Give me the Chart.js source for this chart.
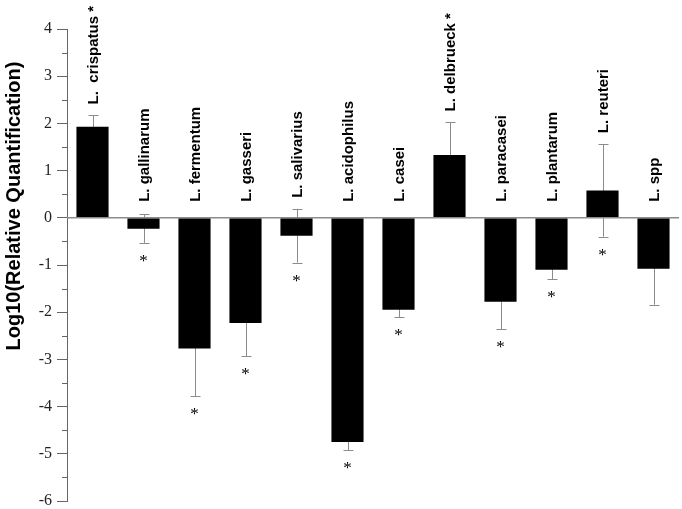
<!DOCTYPE html>
<html>
<head>
<meta charset="utf-8">
<script src="https://cdn.jsdelivr.net/npm/chart.js@4"></script>
<style>
  html, body { margin: 0; padding: 0; background: #fff; }
  #wrap { width: 682px; height: 509px; }
</style>
</head>
<body>
<div id="wrap"><canvas id="chart"></canvas></div>
<script>
// species names (asterisk kept in the label where the picture has it there)
const species = ['L.  crispatus *', 'L. gallinarum', 'L. fermentum', 'L. gasseri', 'L. salivarius',
  'L. acidophilus', 'L. casei', 'L. delbrueck *', 'L. paracasei', 'L. plantarum', 'L. reuteri', 'L. spp'];
// mean log10 relative quantification
const meanValues = [1.93, -0.23, -2.77, -2.23, -0.38, -4.75, -1.95, 1.33, -1.78, -1.10, 0.58, -1.08];
// error bar half-length
const errValues = [0.24, 0.30, 1.01, 0.70, 0.57, 0.18, 0.16, 0.69, 0.58, 0.20, 0.98, 0.76];
// asterisk drawn below the bar
const starBelow = [false, true, true, true, true, true, true, false, true, true, true, false];
const yTicks = [-6, -5, -4, -3, -2, -1, 0, 1, 2, 3, 4];
const yTitle = 'Log10(Relative Quantification)';

const GREY = '#8c8c8c';
const AXIS = '#666';
const SERIF = '"Times New Roman", "Liberation Serif", serif';
const SANS = '"Liberation Sans", Arial, sans-serif';

// error bars go under the bars, so only the part outside the bar shows
const errorBars = {
  id: 'errorBars',
  beforeDatasetsDraw(chart) {
    const { ctx } = chart;
    const y = chart.scales.y;
    const meta = chart.getDatasetMeta(0);
    ctx.save();
    ctx.strokeStyle = GREY;
    ctx.lineWidth = 1;
    meta.data.forEach((bar, i) => {
      const x = Math.round(bar.x) + 0.5;
      const top = y.getPixelForValue(meanValues[i] + errValues[i]);
      const bot = y.getPixelForValue(meanValues[i] - errValues[i]);
      ctx.beginPath();
      ctx.moveTo(x, top); ctx.lineTo(x, bot);
      ctx.moveTo(x - 5, Math.round(top) + 0.5); ctx.lineTo(x + 5, Math.round(top) + 0.5);
      ctx.moveTo(x - 5, Math.round(bot) + 0.5); ctx.lineTo(x + 5, Math.round(bot) + 0.5);
      ctx.stroke();
    });
    ctx.restore();
  }
};

// zero line, minor ticks, axis title, rotated names and asterisks
const decorations = {
  id: 'decorations',
  afterDatasetsDraw(chart) {
    const { ctx, chartArea } = chart;
    const y = chart.scales.y;
    const meta = chart.getDatasetMeta(0);
    const zero = y.getPixelForValue(0);
    ctx.save();
    ctx.strokeStyle = GREY;
    ctx.lineWidth = 1.5;
    ctx.beginPath();
    ctx.moveTo(chartArea.left, zero);
    ctx.lineTo(chartArea.right, zero);
    ctx.stroke();

    // half-unit minor ticks
    ctx.strokeStyle = AXIS;
    ctx.lineWidth = 1;
    ctx.beginPath();
    for (let v = -5.5; v < 4; v += 1) {
      const py = Math.round(y.getPixelForValue(v)) + 0.5;
      ctx.moveTo(chartArea.left - 5, py);
      ctx.lineTo(chartArea.left, py);
    }
    ctx.stroke();

    // axis title, centred a bit above the middle like the original
    ctx.save();
    ctx.translate(14, y.getPixelForValue(0.25));
    ctx.rotate(-Math.PI / 2);
    ctx.fillStyle = '#000';
    ctx.font = 'bold 20px ' + SANS;
    ctx.textAlign = 'center';
    ctx.textBaseline = 'middle';
    ctx.fillText(yTitle, 0, 0);
    ctx.restore();

    meta.data.forEach((bar, i) => {
      const errTop = y.getPixelForValue(meanValues[i] + errValues[i]);
      const errBot = y.getPixelForValue(meanValues[i] - errValues[i]);
      const start = Math.min(zero - 16, errTop - 11);
      ctx.save();
      ctx.translate(bar.x + 1, start);
      ctx.rotate(-Math.PI / 2);
      ctx.fillStyle = '#000';
      ctx.font = 'bold 15px ' + SANS;
      ctx.textAlign = 'left';
      ctx.textBaseline = 'middle';
      ctx.fillText(species[i], 0, 0);
      ctx.restore();

      if (starBelow[i]) {
        ctx.fillStyle = '#000';
        ctx.font = '17px ' + SERIF;
        ctx.textAlign = 'center';
        ctx.textBaseline = 'top';
        ctx.fillText('*', bar.x, errBot + 10);
      }
    });
    ctx.restore();
  }
};

new Chart(document.getElementById('chart'), {
  type: 'bar',
  data: {
    labels: species,
    datasets: [{
      data: meanValues,
      backgroundColor: '#000',
      borderWidth: 0,
      barPercentage: 0.63,
      categoryPercentage: 1
    }]
  },
  options: {
    responsive: true,
    maintainAspectRatio: false,
    animation: false,
    layout: { padding: { top: 29, bottom: 8, right: 3, left: 0 } },
    plugins: { legend: { display: false }, tooltip: { enabled: false } },
    scales: {
      x: { display: false },
      y: {
        min: -6,
        max: 4,
        afterBuildTicks: s => { s.ticks = yTicks.map(v => ({ value: v })); },
        afterFit: s => {
          s.width = 67;
          s.paddingTop = 0;
          s.paddingBottom = 0;
        },
        ticks: {
          color: '#222',
          padding: 5,
          font: { family: SERIF, size: 16 }
        },
        grid: { drawOnChartArea: false, tickLength: 10, color: AXIS },
        border: { color: AXIS, width: 1 }
      }
    }
  },
  plugins: [errorBars, decorations]
});
</script>
</body>
</html>
